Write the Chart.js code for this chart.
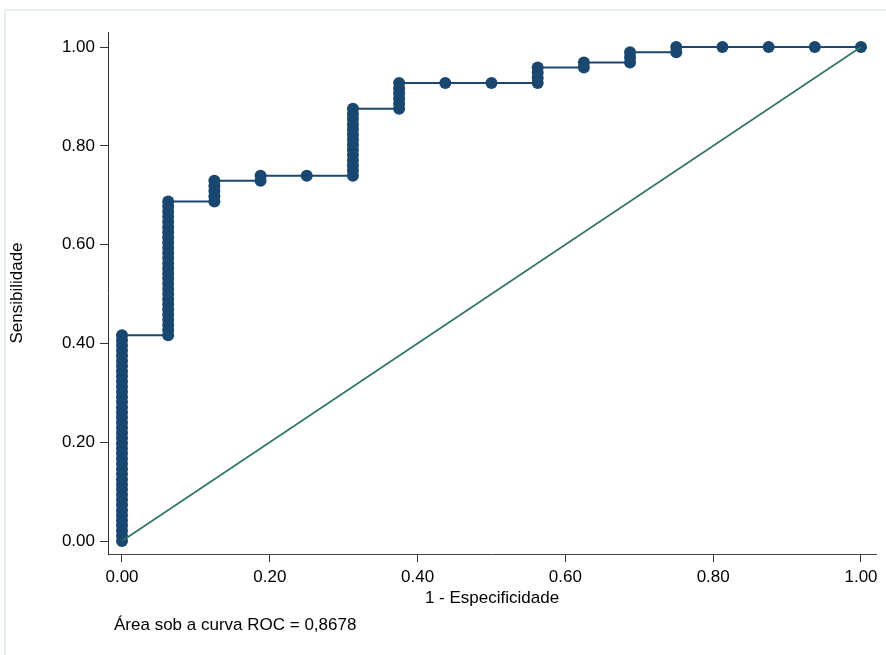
<!DOCTYPE html>
<html>
<head>
<meta charset="utf-8">
<script src="https://cdn.jsdelivr.net/npm/chart.js@4.4.1/dist/chart.umd.min.js"></script>
<style>
  html, body { margin: 0; padding: 0; background: #ffffff; }
  #wrap { width: 886px; height: 655px; position: relative; }
</style>
</head>
<body>
<div id="wrap"><canvas id="c" width="886" height="655"></canvas></div>
<script>
// ---- Data ----
const fpr = [
  0,0,0,0,0,0,0,0,0,0,0,0,0,0,0,0,0,0,0,0,0,0,0,0,0,0,0,0,0,0,0,0,0,0,0,0,0,0,0,0,0,
  0.0625,0.0625,0.0625,0.0625,0.0625,0.0625,0.0625,0.0625,0.0625,0.0625,0.0625,0.0625,0.0625,0.0625,
  0.0625,0.0625,0.0625,0.0625,0.0625,0.0625,0.0625,0.0625,0.0625,0.0625,0.0625,0.0625,0.0625,
  0.125,0.125,0.125,0.125,0.125,
  0.1875,0.1875,
  0.25,
  0.3125,0.3125,0.3125,0.3125,0.3125,0.3125,0.3125,0.3125,0.3125,0.3125,0.3125,0.3125,0.3125,0.3125,
  0.375,0.375,0.375,0.375,0.375,0.375,
  0.4375,
  0.5,
  0.5625,0.5625,0.5625,0.5625,
  0.625,0.625,
  0.6875,0.6875,0.6875,
  0.75,0.75,
  0.8125,
  0.875,
  0.9375,
  1.0
];
const sensitivity = [
  0.0000,0.0104,0.0208,0.0313,0.0417,0.0521,0.0625,0.0729,0.0833,0.0938,
  0.1042,0.1146,0.1250,0.1354,0.1458,0.1563,0.1667,0.1771,0.1875,0.1979,
  0.2083,0.2188,0.2292,0.2396,0.2500,0.2604,0.2708,0.2813,0.2917,0.3021,
  0.3125,0.3229,0.3333,0.3438,0.3542,0.3646,0.3750,0.3854,0.3958,0.4063,0.4167,
  0.4167,0.4271,0.4375,0.4479,0.4583,0.4688,0.4792,0.4896,0.5000,0.5104,
  0.5208,0.5313,0.5417,0.5521,0.5625,0.5729,0.5833,0.5938,0.6042,0.6146,
  0.6250,0.6354,0.6458,0.6563,0.6667,0.6771,0.6875,
  0.6875,0.6979,0.7083,0.7188,0.7292,
  0.7292,0.7396,
  0.7396,
  0.7396,0.7500,0.7604,0.7708,0.7813,0.7917,0.8021,0.8125,0.8229,0.8333,0.8438,0.8542,0.8646,0.8750,
  0.8750,0.8854,0.8958,0.9063,0.9167,0.9271,
  0.9271,
  0.9271,
  0.9271,0.9375,0.9479,0.9583,
  0.9583,0.9688,
  0.9688,0.9792,0.9896,
  0.9896,1.0000,
  1.0000,
  1.0000,
  1.0000,
  1.0000
];
const refX = [0, 1];
const refY = [0, 1];
const tickValues = [0, 0.2, 0.4, 0.6, 0.8, 1.0];
const xTitle = "1 - Especificidade";
const yTitle = "Sensibilidade";
const note = "Área sob a curva ROC = 0,8678";

// ---- Chart ----
const FONT = "'Liberation Sans', Arial, Helvetica, sans-serif";
const FS = 17;
const rocPoints = fpr.map((x, i) => ({ x: x, y: sensitivity[i] }));
const refPoints = refX.map((x, i) => ({ x: x, y: refY[i] }));

const decorPlugin = {
  id: 'decor',
  beforeDraw(chart) {
    const ctx = chart.ctx;
    ctx.save();
    ctx.fillStyle = '#ffffff';
    ctx.fillRect(0, 0, chart.width, chart.height);
    ctx.strokeStyle = '#e6eef0';
    ctx.lineWidth = 2;
    ctx.beginPath();
    ctx.moveTo(5, 655);
    ctx.lineTo(5, 10);
    ctx.lineTo(886, 10);
    ctx.stroke();
    ctx.restore();
  },
  afterDraw(chart) {
    const ctx = chart.ctx;
    const a = chart.chartArea;
    ctx.save();
    ctx.fillStyle = '#000000';
    ctx.font = FS + 'px ' + FONT;
    ctx.textAlign = 'center';
    ctx.textBaseline = 'middle';
    ctx.fillText(xTitle, (a.left + a.right) / 2, 598);
    ctx.translate(17, (a.top + a.bottom) / 2);
    ctx.rotate(-Math.PI / 2);
    ctx.fillText(yTitle, 0, 0);
    ctx.restore();
    ctx.save();
    ctx.fillStyle = '#000000';
    ctx.font = FS + 'px ' + FONT;
    ctx.textAlign = 'left';
    ctx.textBaseline = 'middle';
    ctx.fillText(note, 114, 625);
    ctx.restore();
  }
};

new Chart(document.getElementById('c'), {
  type: 'scatter',
  data: {
    datasets: [
      {
        label: 'Sensibilidade',
        data: rocPoints,
        showLine: true,
        borderColor: '#1a476f',
        backgroundColor: '#1a476f',
        borderWidth: 2,
        pointRadius: 6,
        pointBorderWidth: 0,
        pointHoverRadius: 6,
        order: 2
      },
      {
        label: 'Referência',
        data: refPoints,
        showLine: true,
        borderColor: '#2e7466',
        backgroundColor: '#2e7466',
        borderWidth: 1.6,
        pointRadius: 0,
        order: 1
      }
    ]
  },
  options: {
    responsive: false,
    animation: false,
    devicePixelRatio: 1,
    layout: { padding: { left: 0, right: 10, top: 32, bottom: 0 } },
    plugins: {
      legend: { display: false },
      tooltip: { enabled: false },
      title: { display: false }
    },
    scales: {
      x: {
        type: 'linear',
        min: -0.01894,
        max: 1.0203,
        afterBuildTicks: (s) => { s.ticks = tickValues.map(v => ({ value: v })); },
        afterFit: (s) => { s.height = 101; },
        grid: { drawOnChartArea: false, drawTicks: true, tickLength: 8, color: '#333333', tickWidth: 1 },
        border: { display: true, color: '#444444', width: 1 },
        ticks: {
          color: '#000000',
          font: { family: FONT, size: FS },
          padding: 5,
          maxRotation: 0,
          autoSkip: false,
          callback: (v) => Number(v).toFixed(2)
        }
      },
      y: {
        type: 'linear',
        min: -0.0263,
        max: 1.0304,
        afterBuildTicks: (s) => { s.ticks = tickValues.map(v => ({ value: v })); },
        afterFit: (s) => { s.width = 108; },
        grid: { drawOnChartArea: false, drawTicks: true, tickLength: 8, color: '#333333', tickWidth: 1 },
        border: { display: true, color: '#333333', width: 1 },
        ticks: {
          color: '#000000',
          font: { family: FONT, size: FS },
          padding: 5,
          autoSkip: false,
          callback: (v) => Number(v).toFixed(2)
        }
      }
    }
  },
  plugins: [decorPlugin]
});
</script>
</body>
</html>
